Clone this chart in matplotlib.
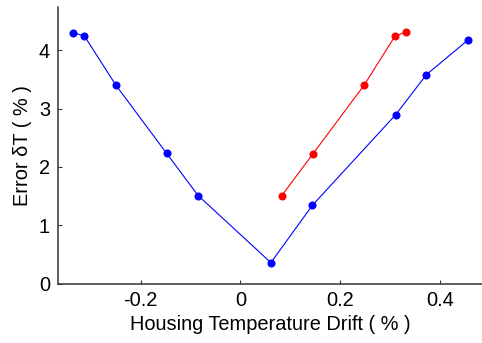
import matplotlib

matplotlib.use("Agg")

import matplotlib.pyplot as plt

# housing temperature drift (%) against temperature error (%)
blue_drift = [-0.335, -0.313, -0.250, -0.148, -0.085, 0.061, 0.144, 0.311, 0.373, 0.456]
blue_error = [4.30, 4.24, 3.40, 2.23, 1.51, 0.36, 1.34, 2.89, 3.58, 4.17]

red_drift = [0.083, 0.145, 0.248, 0.310, 0.332]
red_error = [1.51, 2.22, 3.40, 4.24, 4.31]

x_ticks = [-0.2, 0, 0.2, 0.4]
x_tick_labels = ["-0.2", "0", "0.2", "0.4"]
y_ticks = [0, 1, 2, 3, 4]

plt.rcParams["font.family"] = ["Liberation Sans", "DejaVu Sans"]

fig = plt.figure(figsize=(4.82, 3.43), dpi=100)
ax = fig.add_axes([0.1197, 0.1729, 0.8803, 0.8058])

ax.plot(blue_drift, blue_error, color="#0000ff", linewidth=0.8,
        marker="o", markersize=5.8, markeredgewidth=0)
ax.plot(red_drift, red_error, color="#ff0000", linewidth=0.8,
        marker="o", markersize=5.8, markeredgewidth=0)

ax.set_xlim(-0.3667, 0.4845)
ax.set_ylim(0, 4.733)
ax.set_xticks(x_ticks)
ax.set_xticklabels(x_tick_labels)
ax.set_yticks(y_ticks)

for side in ("top", "right"):
    ax.spines[side].set_visible(False)
for side in ("left", "bottom"):
    ax.spines[side].set_color("#333333")
    ax.spines[side].set_linewidth(1.1)

ax.tick_params(direction="in", length=3, width=0.8, color="#333333",
               labelsize=14.4, pad=5.5)
ax.set_xlabel("Housing Temperature Drift ( % )", fontsize=14.4, labelpad=3)
ax.set_ylabel("Error δT ( % )", fontsize=14.4, labelpad=5)

fig.savefig("out.png", dpi=100)
